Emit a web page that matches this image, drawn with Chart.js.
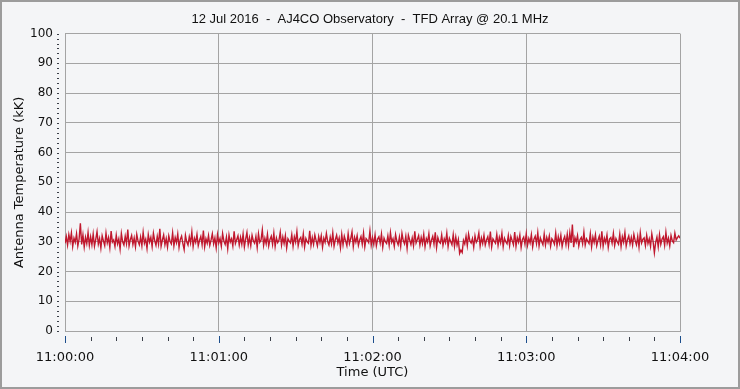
<!DOCTYPE html>
<html lang="en">
<head>
    <meta charset="UTF-8">
    <title>TFD Array</title>
    <script src="https://cdn.jsdelivr.net/npm/chart.js"></script>
    <style>
        body {
            margin: 0;
            background-color: #f4f5f7;
        }

        .frame {
            position: relative;
            width: 740px;
            height: 389px;
        }

        .frame::after {
            content: '';
            position: absolute;
            left: 0; top: 0; right: 0; bottom: 0;
            border: 2px solid #9c9c9c;
            box-sizing: border-box;
            pointer-events: none;
        }
    </style>
</head>
<body>
    <div class="frame">
        <canvas id="chart" width="740" height="389"></canvas>
    </div>

    <script>
        const chartTitle = '12 Jul 2016  -  AJ4CO Observatory  -  TFD Array @ 20.1 MHz';
        const yTitle = 'Antenna Temperature (kK)';
        const xTitle = 'Time (UTC)';
        const xLabels = ['11:00:00', '11:01:00', '11:02:00', '11:03:00', '11:04:00'];
        const sampleStep = 0.5; // seconds between samples

        // antenna temperature (kK), one value every 0.5 s from 11:00:00
        const temps = [
            29.5,31.8,28.9,32.4,30.1,33.0,28.4,31.2,29.8,32.7,28.6,30.9,36.2,29.1,32.3,28.2,31.5,29.4,33.1,28.8,
            31.7,29.0,32.6,28.5,30.8,33.4,29.2,31.1,27.9,32.0,30.3,28.7,32.9,29.6,31.4,28.1,33.6,29.9,30.6,28.4,
            32.2,29.3,31.0,27.6,32.8,30.0,28.9,31.9,29.4,34.1,28.6,30.7,32.1,29.1,31.3,28.3,32.5,30.2,29.0,31.6,
            28.7,33.2,29.5,30.9,27.8,32.4,29.9,31.5,28.4,32.9,30.4,28.8,31.8,29.2,34.4,28.5,30.6,32.3,29.0,31.1,
            28.2,32.0,30.1,29.3,33.0,28.6,31.4,29.7,32.6,28.1,30.8,31.9,29.4,27.4,32.2,30.0,28.9,31.7,29.6,33.3,
            28.4,31.2,29.8,32.5,28.7,30.5,31.8,29.0,33.8,28.3,31.0,29.5,32.1,28.8,30.6,32.7,29.3,31.3,28.0,32.4,
            29.6,31.1,28.5,32.8,30.2,29.1,31.6,27.7,32.3,29.9,31.0,28.6,33.5,29.4,30.7,32.0,28.9,31.5,29.2,32.6,
            28.3,30.9,33.1,29.0,31.4,28.7,32.2,30.3,29.5,31.8,28.1,32.7,29.8,30.6,34.0,28.8,31.2,29.3,32.5,28.6,
            30.8,31.9,29.1,32.9,28.4,31.3,29.7,30.5,33.2,28.9,31.6,29.4,32.1,27.9,31.0,30.2,29.6,32.4,28.5,31.7,
            29.9,33.4,28.7,30.8,31.5,29.2,32.6,28.3,31.1,30.0,29.5,33.7,28.8,31.4,29.1,32.3,30.4,28.6,31.8,29.7,
            32.0,28.2,31.2,29.8,32.8,30.1,28.9,31.6,29.3,33.0,28.5,30.7,32.2,29.6,31.3,28.0,32.5,29.0,31.9,30.3,
            28.7,32.7,29.4,31.0,33.3,28.4,31.5,29.9,32.1,28.8,30.6,31.8,29.2,32.9,28.3,31.1,30.5,29.7,33.6,28.9,
            31.4,29.1,32.3,28.6,30.9,31.7,29.5,32.6,28.2,31.2,30.0,29.4,32.0,28.8,33.1,29.8,31.0,28.5,32.4,30.2,
            29.0,31.6,28.4,32.8,30.4,29.3,31.9,27.8,32.2,30.6,29.1,31.3,28.7,33.5,29.6,30.8,32.1,28.9,31.5,29.4,
            32.5,28.3,31.1,29.9,32.7,28.6,30.5,31.8,29.2,33.2,28.1,31.4,30.0,29.5,32.3,28.8,31.0,29.7,32.9,28.4,
            31.2,30.1,29.0,32.4,28.5,31.6,28.9,30.8,26.1,27.2,26.4,30.5,29.3,31.9,28.7,32.6,30.3,29.6,31.1,28.2,
            32.0,29.8,30.7,33.0,28.6,31.3,29.4,32.2,28.9,30.6,31.7,29.1,33.4,28.3,31.0,30.2,29.5,32.5,28.8,31.5,
            29.7,32.8,28.4,31.2,30.0,29.3,32.1,28.7,31.8,30.4,29.0,33.3,28.5,31.4,29.9,32.3,28.1,30.8,31.6,29.2,
            32.7,28.8,31.1,29.6,32.4,28.3,30.9,31.9,29.4,33.1,28.6,31.3,30.1,29.0,32.6,28.9,31.5,29.8,32.0,28.5,
            31.0,30.3,29.2,32.9,28.7,31.7,29.5,32.2,28.4,30.6,31.8,29.1,32.5,28.8,33.0,29.6,35.8,28.2,31.4,29.9,
            32.1,28.6,30.8,31.5,29.3,33.2,28.9,31.0,30.2,29.4,32.7,28.3,31.6,29.8,32.4,28.7,30.5,31.9,29.0,33.5,
            28.5,31.2,29.7,32.3,28.1,30.9,31.4,29.5,32.8,28.8,31.1,30.0,29.2,32.6,28.4,31.7,29.9,33.1,28.6,30.7,
            32.0,29.3,31.5,28.9,32.5,30.4,29.0,31.8,28.2,33.0,29.6,30.8,31.3,28.7,32.2,29.4,31.0,28.5,32.7,30.1,
            26.3,29.8,31.6,28.3,32.4,29.1,30.9,31.7,28.8,33.2,29.5,31.2,28.6,32.1,30.3,29.7,32.9,30.6,31.4,32.0,
            31.2
        ];

        const points = temps.map((t, i) => ({ x: i * sampleStep, y: t }));

        const gridColor = '#a4a4a4';
        const majorTickColor = '#1c4e8c';
        const minorTickColor = '#3a3f48';
        const textColor = '#111111';

        // small tick marks: x every 10 s below the axis, dotted y ticks left of the axis
        const tickMarks = {
            id: 'tickMarks',
            afterDraw(chart) {
                const ctx = chart.ctx;
                const xs = chart.scales.x;
                const ys = chart.scales.y;
                const area = chart.chartArea;
                ctx.save();
                for (let v = 0; v <= 240; v += 10) {
                    const px = Math.round(xs.getPixelForValue(v));
                    if (v % 60 === 0) {
                        ctx.fillStyle = majorTickColor;
                        ctx.fillRect(px, area.bottom + 5, 1, 7);
                    } else {
                        ctx.fillStyle = minorTickColor;
                        ctx.fillRect(px, area.bottom + 6, 1, 4);
                    }
                }
                ctx.fillStyle = minorTickColor;
                for (let k = 0; k <= 60; k++) {
                    const py = Math.round(ys.getPixelForValue(k * 10 / 6));
                    ctx.fillRect(Math.round(area.left) - 8, py, 2, 1);
                }
                ctx.restore();
            }
        };

        new Chart(document.getElementById('chart'), {
            type: 'line',
            data: {
                datasets: [{
                    data: points,
                    borderColor: '#c0182e',
                    borderWidth: 1.4,
                    pointRadius: 0,
                    tension: 0
                }]
            },
            options: {
                responsive: false,
                animation: false,
                layout: { padding: { left: 0, right: 0, top: 0, bottom: 8 } },
                plugins: {
                    legend: { display: false },
                    tooltip: { enabled: false },
                    title: {
                        display: true,
                        text: chartTitle,
                        color: textColor,
                        font: { family: 'Liberation Sans', size: 13, weight: 'normal' },
                        padding: { top: 12, bottom: 6 }
                    }
                },
                scales: {
                    x: {
                        type: 'linear',
                        min: 0,
                        max: 240,
                        afterFit: s => { s.height = 50; },
                        ticks: {
                            stepSize: 60,
                            padding: 19,
                            maxRotation: 0,
                            color: textColor,
                            font: { family: 'DejaVu Sans', size: 13 },
                            callback: v => xLabels[v / 60]
                        },
                        grid: { color: gridColor, drawTicks: false },
                        border: { color: gridColor },
                        title: {
                            display: true,
                            text: xTitle,
                            color: textColor,
                            font: { family: 'DejaVu Sans', size: 13 },
                            padding: { top: 0, bottom: 1 }
                        }
                    },
                    y: {
                        min: 0,
                        max: 100,
                        afterFit: s => { s.width = 65; },
                        ticks: {
                            stepSize: 10,
                            padding: 12,
                            color: textColor,
                            font: { family: 'DejaVu Sans', size: 12 }
                        },
                        grid: { color: gridColor, drawTicks: false },
                        border: { color: gridColor },
                        title: {
                            display: true,
                            text: yTitle,
                            color: textColor,
                            font: { family: 'DejaVu Sans', size: 13 },
                            padding: { top: 12, bottom: 0 }
                        }
                    },
                    // empty right margin so the title is centred on the whole picture
                    yRight: {
                        position: 'right',
                        afterFit: s => { s.width = 60; },
                        ticks: { display: false },
                        grid: { display: false },
                        border: { display: false }
                    }
                }
            },
            plugins: [tickMarks]
        });
    </script>
</body>
</html>
